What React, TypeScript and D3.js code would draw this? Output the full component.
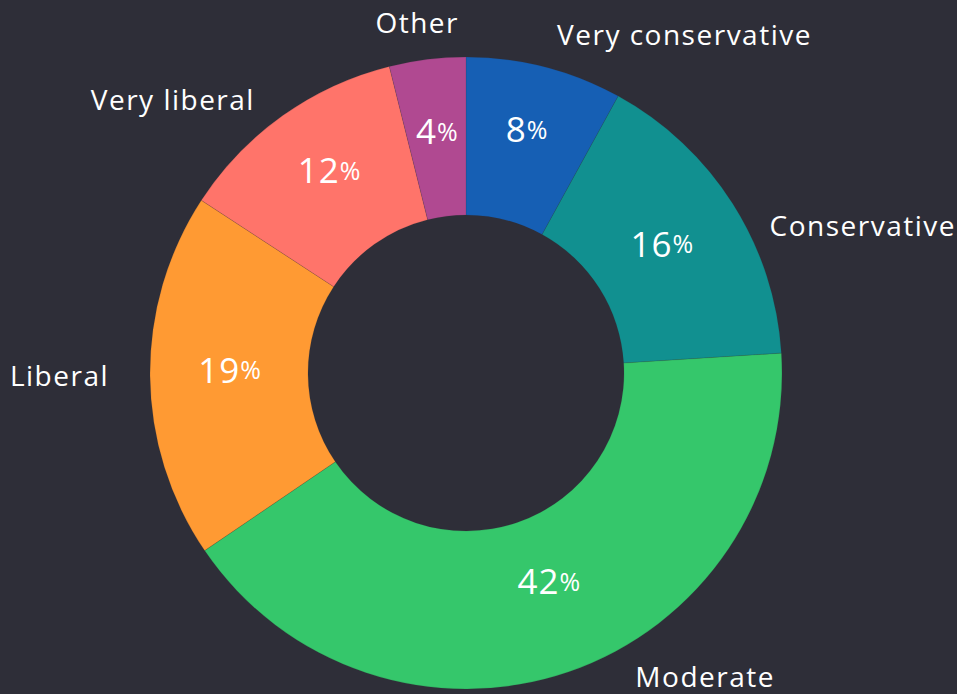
import React from "react";
import * as d3 from "d3";

const categories = ["Very conservative", "Conservative", "Moderate", "Liberal", "Very liberal", "Other"];
const shares = [8.0, 16.0, 41.5, 18.7, 11.9, 3.9];

const colors = ["#165fb4", "#119090", "#35c76b", "#ff9a33", "#ff746a", "#b04991"];
// layout nudges for outside labels [dx, dy]
const labelNudges: [number, number][] = [
  [4, 0],
  [8, 40],
  [56, -28],
  [-7, -1],
  [-8, 11],
  [-6, -4],
];
const insideNudges: [number, number][] = [
  [1, -10],
  [-8, 0],
  [5, -21],
  [6, -6],
  [4, -6],
  [1, -2],
];

const W = 957;
const H = 694;
const BG = "#2e2e38";
const FONT = "'Open Sans', 'DejaVu Sans', sans-serif";

export default function App() {
  const cx = 466;
  const cy = 373;
  const outerR = 316;
  const innerR = 158;
  const labelR = 350;
  const textR = 242;

  const data = categories.map((c, i) => ({ name: c, value: shares[i], i }));
  const pie = d3.pie<any>().value((d) => d.value).sort(null).startAngle(0).endAngle(2 * Math.PI);
  const arcs = pie(data);
  const arcGen = d3.arc<any>().innerRadius(innerR).outerRadius(outerR);

  return (
    <div style={{ position: "fixed", left: 0, top: 0, width: W, height: H, background: BG }}>
      <svg width={W} height={H} style={{ display: "block" }}>
        <rect width={W} height={H} fill={BG} />
        <g transform={`translate(${cx},${cy})`}>
          {arcs.map((a) => (
            <path key={a.data.name} d={arcGen(a) || ""} fill={colors[a.data.i]} stroke={BG} strokeWidth={0.15} />
          ))}
          {arcs.map((a) => {
            const mid = (a.startAngle + a.endAngle) / 2;
            const x = Math.sin(mid) * textR + insideNudges[a.data.i][0];
            const y = -Math.cos(mid) * textR + insideNudges[a.data.i][1];
            return (
              <text
                key={"p" + a.data.name}
                x={x}
                y={y}
                textAnchor="middle"
                dominantBaseline="central"
                fill="#ffffff"
                fontFamily={FONT}
                fontSize={35}
                letterSpacing={1}
              >
                {Math.round(a.data.value)}
                <tspan fontSize={25}>%</tspan>
              </text>
            );
          })}
          {arcs.map((a) => {
            const mid = (a.startAngle + a.endAngle) / 2;
            const px = Math.sin(mid) * labelR;
            const py = -Math.cos(mid) * labelR;
            const anchor = px > 60 ? "start" : px < -60 ? "end" : "middle";
            return (
              <text
                key={"l" + a.data.name}
                x={px + labelNudges[a.data.i][0]}
                y={py + labelNudges[a.data.i][1]}
                textAnchor={anchor}
                dominantBaseline="central"
                fill="#ffffff"
                fontFamily={FONT}
                fontSize={28}
                letterSpacing={1.5}
              >
                {a.data.name}
              </text>
            );
          })}
        </g>
      </svg>
    </div>
  );
}
